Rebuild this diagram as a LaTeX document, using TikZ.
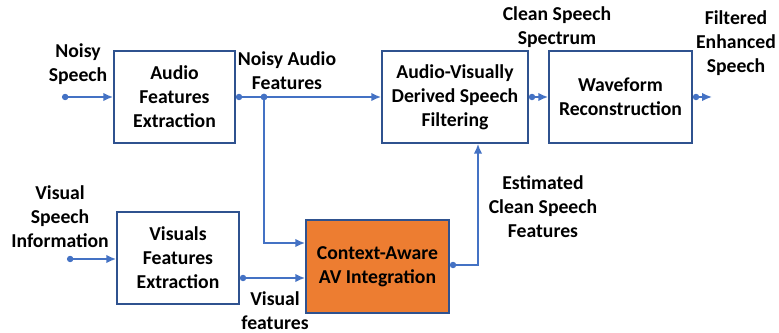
\documentclass[tikz,border=0pt]{standalone}
\usepackage{fontspec}
\setmainfont{Carlito}
\usepackage{tikz}
\usetikzlibrary{arrows.meta}
\definecolor{boxline}{HTML}{2F528F}
\definecolor{arrowline}{HTML}{4472C4}
\definecolor{ctxfill}{HTML}{ED7D31}

\begin{document}
\begin{tikzpicture}[x=0.025cm, y=-0.025cm,
    every node/.style={font=\bfseries\fontsize{14}{17}\selectfont, align=center},
    block/.style={draw=boxline, line width=1.2pt, minimum height=2.3cm, inner sep=2pt},
    flow/.style={draw=arrowline, line width=1.2pt, {Circle[length=4.5pt]}-{Latex[length=7pt,width=6pt]}},
    plain/.style={draw=arrowline, line width=1.2pt, -{Latex[length=7pt,width=6pt]}}]
  \useasboundingbox (0,0) rectangle (779,333);
  \node[block, minimum width=3.025cm] (Audio) at (174.5,97) {Audio\\Features\\Extraction};
  \node[block, minimum width=3.65cm] (Filter) at (455,97) {Audio-Visually\\Derived Speech\\Filtering};
  \node[block, minimum width=3.575cm] (Wave) at (620.5,97) {Waveform\\Reconstruction};
  \node[block, minimum width=3.05cm] (Visual) at (178,258) {Visuals\\Features\\Extraction};
  \node[block, fill=ctxfill, minimum width=3.575cm, minimum height=2.325cm] (Context) at (377.5,266.5) {Context-Aware\\AV Integration};

  \coordinate (NoisyIn) at (62,97);
  \coordinate (VisIn) at (67,259);
  \coordinate (Branch) at (264,97);
  \coordinate (Out) at (712,97);

  \draw[flow] (NoisyIn) -- (Audio.west |- NoisyIn);
  \draw[flow] (Audio.east) -- (Filter.west);
  \fill[arrowline] (Branch) circle (2.4pt);
  \draw[plain] (Branch) |- (Context.west |- 0,243);
  \draw[flow] (Filter.east) -- (Wave.west);
  \draw[flow] (Wave.east) -- (Out);
  \draw[flow] (VisIn) -- (Visual.west |- VisIn);
  \draw[flow] (Visual.east |- 0,278) -- (Context.west |- 0,278);
  \draw[flow] (Context.east |- 0,265) -| (Filter.south -| 478,0);

  \node (NoisyLbl) at (78,64) {Noisy\\Speech};
  \node (AudioLbl) at (287,71) {Noisy Audio\\Features};
  \node (CleanLbl) at (557,27) {Clean Speech\\Spectrum};
  \node (OutLbl) at (736,43) {Filtered\\Enhanced\\Speech};
  \node (VisLbl) at (60,217) {Visual\\Speech\\Information};
  \node (VfLbl) at (275,311) {Visual\\features};
  \node (EstLbl) at (543,207) {Estimated\\Clean Speech\\Features};
\end{tikzpicture}
\end{document}
